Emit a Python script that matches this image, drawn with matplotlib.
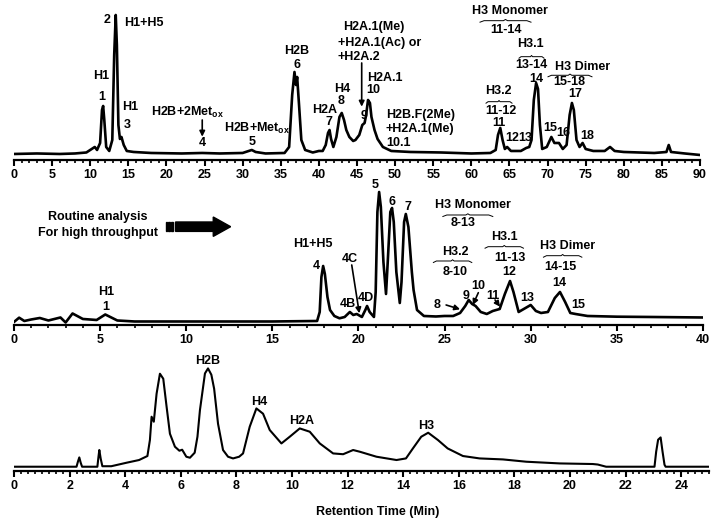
import matplotlib
matplotlib.use('Agg')
import matplotlib.pyplot as plt
from matplotlib.ticker import MultipleLocator
from matplotlib.patches import Polygon, Rectangle

plt.rcParams['font.family'] = ['Liberation Sans', 'DejaVu Sans']
plt.rcParams['font.weight'] = 'bold'
plt.rcParams['mathtext.fontset'] = 'custom'
plt.rcParams['mathtext.rm'] = 'Liberation Sans:bold'
plt.rcParams['mathtext.it'] = 'Liberation Sans:bold'
plt.rcParams['mathtext.bf'] = 'Liberation Sans:bold'

# Panel A: full run, 0-90 min (time, detector signal)
tA = [0, 3, 6, 8, 9.5, 10.2, 10.6, 10.9, 11.3, 11.55, 11.7, 11.85, 12.1, 12.5, 12.9,
      13.15, 13.35, 13.5, 13.7, 13.9, 14.1, 14.4, 14.8, 15.7, 18, 22, 24.7, 27, 30,
      30.8, 31.2, 31.7, 33, 35.5, 36.1, 36.5, 36.8, 37.0, 37.15, 37.4, 37.7, 38.2,
      39.2, 40, 40.5, 40.9, 41.2, 41.4, 41.6, 41.9, 42.3, 42.7, 43.0, 43.3, 43.6,
      44.0, 44.5, 44.8, 45.3, 45.7, 46.0, 46.2, 46.45, 46.7, 46.9, 47.3, 47.7, 48.4,
      49.5, 52, 56, 60, 62.5, 63.2, 63.5, 63.8, 64.1, 64.4, 64.7, 65.2, 66.5, 67.2,
      67.6, 67.9, 68.2, 68.5, 68.75, 69.0, 69.3, 69.9, 70.5, 70.9, 71.5, 72.0, 72.5,
      72.9, 73.2, 73.45, 73.8, 74.2, 74.6, 75.0, 76.0, 77.5, 78.2, 78.8, 80, 84,
      85.6, 85.9, 86.2, 88, 90]
sA = [1, 1.5, 1, 1.5, 2.5, 6, 8, 5, 12, 45, 49, 35, 8, 4, 15,
      100, 140, 110, 30, 16, 18, 10, 4, 3, 2, 1.5, 2, 1.5, 2,
      4, 5, 3, 1.5, 2, 8, 60, 83, 70, 78, 50, 15, 5,
      2.5, 4, 4, 10, 22, 25, 16, 8, 18, 38, 42, 35, 25,
      18, 14, 15, 20, 30, 32, 40, 55, 52, 38, 25, 16, 8,
      4, 3, 2.5, 1.5, 2, 5, 20, 27, 15, 6, 8, 4, 4, 7,
      8, 15, 55, 72, 66, 30, 6, 8, 18, 12, 12, 6, 10,
      40, 52, 45, 15, 8, 12, 6, 4, 4, 8, 4, 3, 2,
      3, 10, 3, 1.5, 0]

# Panel B: routine analysis, 0-40 min
tB = [0, 0.3, 0.6, 1.0, 1.5, 2.0, 2.7, 3.0, 3.4, 4.0, 4.8, 5.3, 6.0, 7.0, 10, 15,
      17.6, 17.75, 17.85, 17.95, 18.05, 18.2, 18.35, 18.6, 18.9, 19.2, 19.5, 19.7,
      19.9, 20.2, 20.4, 20.5, 20.65, 20.9, 21.0, 21.1, 21.2, 21.3, 21.45, 21.6,
      21.7, 21.85, 21.95, 22.05, 22.2, 22.4, 22.5, 22.65, 22.75, 22.9, 23.1, 23.2,
      23.4, 23.8, 24.5, 25.0, 25.5, 25.9, 26.2, 26.4, 26.6, 26.8, 27.1, 27.45, 27.8,
      28.2, 28.5, 28.8, 29.0, 29.3, 29.7, 30.0, 30.3, 30.6, 31.0, 31.4, 31.7, 32.0,
      32.3, 32.6, 33.3, 35, 37, 40]
sB = [0, 4.3, 1, 2.5, 4, 1.5, 4.5, -0.5, 8.5, 3, 2, 7.5, 1.5, 0.5, 0.5, 0.5,
      1, 10, 45, 56, 48, 25, 12, 6, 3.7, 5, 10, 7,
      8, 5, 12, 16, 10, 5, 30, 110, 130, 115, 60, 28,
      60, 110, 114, 100, 50, 19, 40, 100, 108, 95, 50, 32,
      12, 6, 5.5, 6, 6, 9, 16, 22, 18, 16, 10, 8, 11,
      13, 28, 41, 30, 10, 14, 17, 11, 9, 10, 24, 30, 20,
      9, 8, 6, 5.3, 5, 4.5]

# Panel C: short run, 0-25 min
tC = [0, 2.25, 2.3, 2.35, 2.4, 2.45, 3.0, 3.04, 3.07, 3.12, 3.18, 3.5, 4.05, 4.5,
      4.8, 4.89, 4.95, 5.03, 5.13, 5.25, 5.37, 5.49, 5.61, 5.79, 5.95, 6.05, 6.2,
      6.33, 6.5, 6.6, 6.69, 6.87, 6.98, 7.1, 7.2, 7.34, 7.52, 7.7, 7.88, 8.1, 8.24,
      8.48, 8.72, 8.96, 9.2, 9.62, 9.92, 10.28, 10.64, 11.0, 11.48, 11.84, 12.2,
      12.44, 13.04, 13.76, 14.1, 14.35, 14.65, 14.9, 15.25, 15.6, 16.15, 16.75,
      17.59, 18.43, 19.63, 20.82, 21.0, 21.3, 23.04, 23.1, 23.17, 23.26, 23.33,
      23.4, 23.44, 25]
sC = [0, 0, 5, 9.3, 4, 0, 0, 10, 16.7, 8, 0.5, 0.5, 4, 6.7,
      10.7, 26.7, 50, 45, 73, 93, 88, 60, 33, 20, 16, 17, 10,
      9, 14, 30, 56.7, 93.3, 98.3, 92, 78, 43, 16.7, 10, 8.3, 10, 13.3,
      40, 58.3, 53, 36.7, 23.3, 30, 38.3, 35, 23.3, 13.3, 12.5, 16.7,
      15, 10, 6.7, 8.3, 18.3, 30, 34, 26.7, 18.3, 10.7, 8.3,
      7.3, 5, 3.3, 2.7, 2.2, 0, 0, 15, 27, 29.3, 15,
      2, 0, 0]

fs = 9
fig = plt.figure(figsize=(7.2, 5.24), dpi=100)
axA = fig.add_axes([0.0194, 0.6947, 0.9528, 0.2958])
axB = fig.add_axes([0.0194, 0.3798, 0.9569, 0.2767])
axC = fig.add_axes([0.0194, 0.1011, 0.9653, 0.2271])


def style(ax, xmax, major, minor, ylim):
    ax.set_xlim(0, xmax)
    ax.set_ylim(*ylim)
    for s in ['top', 'left', 'right']:
        ax.spines[s].set_visible(False)
    ax.spines['bottom'].set_linewidth(1.6)
    ax.set_yticks([])
    ax.xaxis.set_major_locator(MultipleLocator(major))
    ax.xaxis.set_minor_locator(MultipleLocator(minor))
    ax.tick_params(axis='x', which='major', direction='out', length=4.5, width=1.5,
                   labelsize=fs, pad=2)
    ax.tick_params(axis='x', which='minor', direction='out', length=2.5, width=1.2)
    for lab in ax.get_xticklabels():
        lab.set_fontweight('bold')
    ax.patch.set_alpha(0)


def txt(ax, x, y, s, ha='center'):
    ax.text(x, y, s, ha=ha, va='center', fontsize=fs, fontweight='bold', clip_on=False)


def arrow(ax, x0, y0, x1, y1):
    ax.annotate('', xy=(x1, y1), xytext=(x0, y0),
                arrowprops=dict(arrowstyle='-|>', color='black', lw=1.2,
                                mutation_scale=8, shrinkA=0, shrinkB=0),
                annotation_clip=False)


def brace(ax, x0, x1, y):
    w = (x1 - x0)
    xm = (x0 + x1) / 2
    ax.plot([x0, x0 + 0.08 * w, xm - 0.04 * w, xm, xm + 0.04 * w, x1 - 0.08 * w, x1],
            [y - 1.5, y, y, y + 1.2, y, y, y - 1.5], color='black', lw=0.7,
            clip_on=False)


# ---- Panel A
axA.plot(tA, sA, color='black', lw=1.9, solid_joinstyle='round')
style(axA, 90, 5, 1, (-5, 150))
txt(axA, 11.41, 79, 'H1')
txt(axA, 11.55, 58.3, '1')
txt(axA, 12.24, 135, '2')
txt(axA, 17.1, 131.7, 'H1+H5')
txt(axA, 15.31, 47.7, 'H1')
txt(axA, 14.92, 29.7, '3')
txt(axA, 22.83, 42.5, r'H2B+2Met$_{\rm ox}$')
arrow(axA, 24.7, 35, 24.7, 18.3)
txt(axA, 24.7, 11.7, '4')
txt(axA, 31.84, 27, r'H2B+Met$_{\rm ox}$')
txt(axA, 31.19, 12.5, '5')
txt(axA, 37.09, 104.3, 'H2B')
txt(axA, 37.09, 90, '6')
txt(axA, 40.8, 45, 'H2A')
txt(axA, 41.37, 33.3, '7')
txt(axA, 43.07, 66, 'H4')
txt(axA, 42.9, 53.8, '8')
txt(axA, 43.16, 128, 'H2A.1(Me)', ha='left')
txt(axA, 42.47, 112.3, '+H2A.1(Ac) or', ha='left')
txt(axA, 42.47, 97.7, '+H2A.2', ha='left')
arrow(axA, 45.62, 92, 45.62, 48.3)
txt(axA, 45.92, 39, '9')
txt(axA, 46.27, 76.5, 'H2A.1', ha='left')
txt(axA, 47.1, 64.5, '10')
txt(axA, 48.8, 40, 'H2B.F(2Me)', ha='left')
txt(axA, 48.8, 25.7, '+H2A.1(Me)', ha='left')
txt(axA, 48.9, 11.7, '10.1', ha='left')
txt(axA, 65.07, 144, 'H3 Monomer')
brace(axA, 61.14, 67.83, 134.3)
txt(axA, 64.51, 125, '11-14')
txt(axA, 67.7, 111, 'H3.1')
brace(axA, 66.26, 69.54, 98.3)
txt(axA, 67.92, 90, '13-14')
txt(axA, 68.58, 76, '14')
txt(axA, 74.6, 88.3, 'H3 Dimer')
brace(axA, 70.06, 75.83, 79.7)
txt(axA, 72.82, 73.3, '15-18')
txt(axA, 73.6, 61, '17')
txt(axA, 63.5, 64.3, 'H3.2')
brace(axA, 61.93, 65.34, 53.3)
txt(axA, 63.89, 44, '11-12')
txt(axA, 63.67, 32.3, '11')
txt(axA, 65.3, 16.7, '12')
txt(axA, 67.04, 16.7, '13')
txt(axA, 70.41, 26.7, '15')
txt(axA, 72.07, 21.7, '16')
txt(axA, 75.14, 19, '18')

# ---- Panel B
axB.plot(tB, sB, color='black', lw=1.9, solid_joinstyle='round')
style(axB, 40, 5, 1, (-3, 142))
txt(axB, 4.85, 104.7, 'Routine analysis')
txt(axB, 4.85, 88.7, 'For high throughput')
# block arrow
yc = 95.3
axB.add_patch(Polygon([(9.38, yc - 4.7), (11.57, yc - 4.7), (11.57, yc - 9.7),
                       (12.58, yc), (11.57, yc + 9.7), (11.57, yc + 4.7),
                       (9.38, yc + 4.7)], closed=True, color='black', clip_on=False))
for xs in [8.81, 8.97, 9.13]:
    axB.add_patch(Rectangle((xs, yc - 4.7), 0.1, 9.4, color='black', clip_on=False))
txt(axB, 5.34, 30.3, 'H1')
txt(axB, 5.34, 15.3, '1')
txt(axB, 17.38, 77.7, 'H1+H5')
txt(axB, 17.58, 56, '4')
txt(axB, 19.51, 62.7, '4C')
arrow(axB, 19.61, 57, 20.05, 8.7)
txt(axB, 19.36, 18, '4B')
txt(axB, 20.44, 24.3, '4D')
txt(axB, 20.96, 137, '5')
txt(axB, 21.93, 120.3, '6')
txt(axB, 22.9, 115.3, '7')
txt(axB, 26.67, 117, 'H3 Monomer')
brace(axB, 24.9, 27.8, 107)
txt(axB, 26.09, 98.7, '8-13')
txt(axB, 25.61, 70.3, 'H3.2')
brace(axB, 24.35, 26.58, 61)
txt(axB, 25.61, 50.3, '8-10')
txt(axB, 28.45, 85.3, 'H3.1')
brace(axB, 27.35, 29.58, 75.3)
txt(axB, 28.8, 63.7, '11-13')
txt(axB, 28.76, 50.3, '12')
txt(axB, 32.13, 76, 'H3 Dimer')
brace(axB, 30.74, 32.97, 66.3)
txt(axB, 31.71, 54.7, '14-15')
txt(axB, 31.67, 39.3, '14')
txt(axB, 24.58, 17, '8')
arrow(axB, 25.09, 17, 25.9, 12.7)
txt(axB, 26.25, 26, '9')
txt(axB, 26.96, 36, '10')
arrow(axB, 26.96, 29.3, 26.64, 17)
txt(axB, 27.83, 26, '11')
arrow(axB, 27.93, 22, 28.22, 15.3)
txt(axB, 29.81, 23.7, '13')
txt(axB, 32.77, 17, '15')

# ---- Panel C
axC.plot(tC, sC, color='black', lw=1.5, solid_joinstyle='round')
style(axC, 25, 2, 0.25, (-4.3, 114.7))
txt(axC, 6.98, 105.7, 'H2B')
txt(axC, 8.82, 65, 'H4')
txt(axC, 10.34, 45.7, 'H2A')
txt(axC, 14.83, 40.7, 'H3')

fig.text(0.525, 1 - 511.5 / 524, 'Retention Time (Min)', ha='center', va='center',
         fontsize=fs, fontweight='bold')

fig.savefig('out.png', dpi=100)
